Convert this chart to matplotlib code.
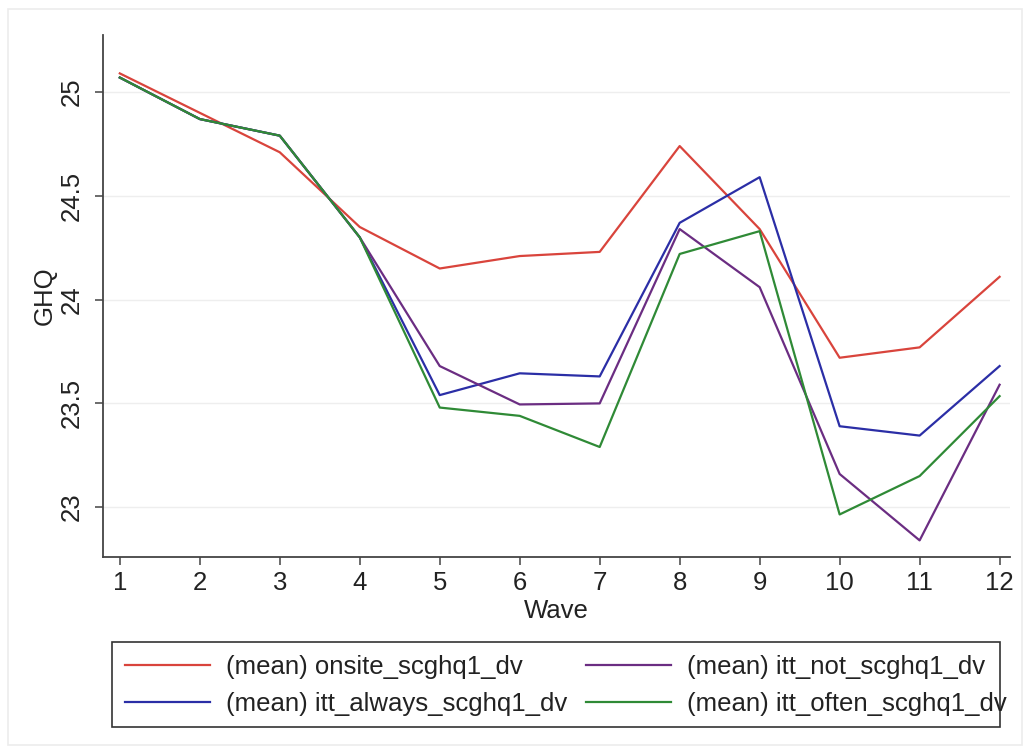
import matplotlib
matplotlib.use("Agg")
import matplotlib.pyplot as plt
from matplotlib.patches import Rectangle

plt.rcParams['font.family'] = ['Liberation Sans', 'DejaVu Sans']

waves = [1, 2, 3, 4, 5, 6, 7, 8, 9, 10, 11, 12]
onsite = [25.09, 24.90, 24.71, 24.35, 24.15, 24.21, 24.23, 24.74, 24.34, 23.72, 23.77, 24.11]
itt_always = [25.07, 24.87, 24.79, 24.30, 23.54, 23.645, 23.63, 24.37, 24.59, 23.39, 23.345, 23.68]
itt_not = [25.07, 24.87, 24.79, 24.30, 23.68, 23.495, 23.50, 24.34, 24.06, 23.16, 22.84, 23.59]
itt_often = [25.07, 24.87, 24.79, 24.30, 23.48, 23.44, 23.29, 24.22, 24.33, 22.965, 23.15, 23.535]
labels = ["(mean) onsite_scghq1_dv", "(mean) itt_always_scghq1_dv",
          "(mean) itt_not_scghq1_dv", "(mean) itt_often_scghq1_dv"]
yticks = [23, 23.5, 24, 24.5, 25]
yticklabels = ["23", "23.5", "24", "24.5", "25"]

colors = ["#d9443c", "#2b2ea6", "#6b2d82", "#2f8a36"]
FS = 18.5

fig = plt.figure(figsize=(10.31, 7.55), dpi=100)
fig.patch.set_facecolor("white")
# faint outer frame
fig.patches.append(Rectangle((8/1031, 10/755), 1014/1031, 736/755, transform=fig.transFigure,
                             fill=False, edgecolor="#ececec", linewidth=1.2))
# legend box
fig.patches.append(Rectangle((112/1031, 1 - 727/755), (1000 - 112)/1031, (727 - 642)/755,
                             transform=fig.transFigure, fill=False,
                             edgecolor="#333333", linewidth=1.2, zorder=5))

ax = fig.add_axes([103/1031, 1 - 557/755, (1010 - 103)/1031, (557 - 35)/755])
for series, c, lab in zip([onsite, itt_always, itt_not, itt_often], colors, labels):
    ax.plot(waves, series, color=c, linewidth=1.6, label=lab)

ax.set_xlim(0.79, 12.13)
ax.set_ylim(22.76, 25.275)
ax.set_xticks(waves)
ax.set_xticklabels([str(w) for w in waves])
ax.set_yticks(yticks)
ax.set_yticklabels(yticklabels, rotation=90, va="center")
ax.grid(axis="y", color="#eeeeee", linewidth=1.0)
ax.set_axisbelow(True)
for s in ["top", "right"]:
    ax.spines[s].set_visible(False)
for s in ["left", "bottom"]:
    ax.spines[s].set_color("#444444")
    ax.spines[s].set_linewidth(1.3)
ax.tick_params(axis="both", direction="out", length=6, width=1.1, color="#444444",
               labelsize=FS, labelcolor="#222222")
ax.tick_params(axis="y", pad=8)
ax.tick_params(axis="x", pad=4)
ax.set_xlabel("Wave", fontsize=FS, color="#222222", labelpad=3)
ax.set_ylabel("GHQ", fontsize=FS, color="#222222")
ax.yaxis.set_label_coords(-0.051, 0.5)

handles, labs = ax.get_legend_handles_labels()
leg = fig.legend(handles, labs, ncol=2, loc="upper left",
                 bbox_to_anchor=(112/1031, 1 - 642/755), fontsize=FS,
                 frameon=False,
                 handlelength=3.3, handletextpad=0.62, columnspacing=0.76,
                 borderpad=0.5, labelspacing=0.5, borderaxespad=0)
for t in leg.get_texts():
    t.set_color("#222222")

fig.savefig("out.png", dpi=100, facecolor="white")
